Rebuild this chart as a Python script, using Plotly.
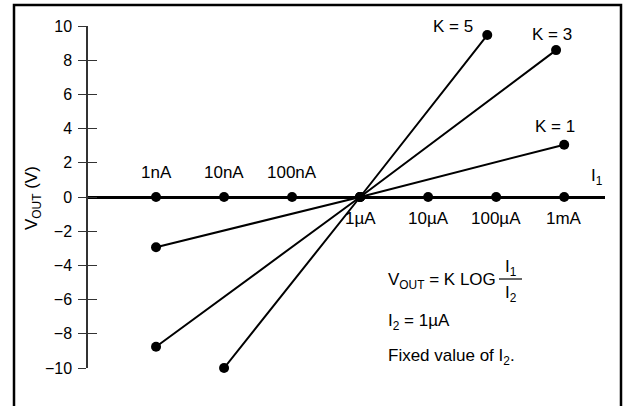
import math
import plotly.graph_objects as go

# ---- data ----
currents = [1e-9, 1e-8, 1e-7, 1e-6, 1e-5, 1e-4, 1e-3]
current_labels = ["1nA", "10nA", "100nA", "1µA", "10µA", "100µA", "1mA"]
label_above = [True, True, True, False, False, False, False]

k_names = ["K = 1", "K = 3", "K = 5"]
k1_x = [1e-9, 1e-6, 1e-3]
k1_y = [-2.94, 0, 3.06]
k3_x = [1e-9, 1e-6, 7.6e-4]
k3_y = [-8.76, 0, 8.59]
k5_x = [1e-8, 1e-6, 7.4e-5]
k5_y = [-10.0, 0, 9.47]

y_ticks = [-10, -8, -6, -4, -2, 0, 2, 4, 6, 8, 10]

FONT = "Liberation Sans, Arial, Helvetica, sans-serif"
W, H = 627, 406
L, T = 88, 26
R = W - 605
B = H - 368
PW, PH = W - L - R, H - T - B


def px(x):
    return (x - L) / PW


def py(y):
    return (H - B - y) / PH


def txt(text, x, y, xanchor="center", angle=0, size=17):
    return dict(x=px(x), y=py(y), xref="paper", yref="paper", text=text,
                xanchor=xanchor, yanchor="middle", textangle=angle,
                showarrow=False, font=dict(size=size, color="black", family=FONT))


fig = go.Figure()

# axis dots
fig.add_trace(go.Scatter(x=currents, y=[0] * len(currents), mode="markers",
                         marker=dict(color="black", size=10),
                         cliponaxis=False, showlegend=False, hoverinfo="skip"))

for xs, ys in [(k1_x, k1_y), (k3_x, k3_y), (k5_x, k5_y)]:
    fig.add_trace(go.Scatter(x=xs, y=ys, mode="lines+markers",
                             line=dict(color="black", width=2),
                             marker=dict(color="black", size=10),
                             cliponaxis=False, showlegend=False, hoverinfo="skip"))

# invisible trace for the inner tick axis
fig.add_trace(go.Scatter(x=[None], y=[None], yaxis="y2", showlegend=False,
                         hoverinfo="skip"))

annotations = []
for c, lab, up in zip(currents, current_labels, label_above):
    annotations.append(dict(x=math.log10(c), y=0, xref="x", yref="y", text=lab,
                            xanchor="center", yanchor="middle",
                            showarrow=False, yshift=25 if up else -21,
                            font=dict(size=17, color="black", family=FONT)))

for name, (xp, yp) in zip(k_names, [(555, 127), (552, 35), (453, 27)]):
    annotations.append(txt(name, xp, yp))

annotations.append(txt("I<sub>1</sub>", 597, 177))
annotations.append(txt("V<sub>OUT</sub> (V)", 33, 198, angle=-90))

# formula block
annotations.append(txt("V<sub>OUT</sub> = K LOG", 386, 281, xanchor="left"))
annotations.append(txt("I<sub>1</sub>", 511, 268))
annotations.append(txt("I<sub>2</sub>", 511, 294))
annotations.append(txt("I<sub>2</sub> = 1µA", 386, 322, xanchor="left"))
annotations.append(txt("Fixed value of I<sub>2</sub>.", 386, 357, xanchor="left"))

shapes = [
    dict(type="line", xref="paper", yref="paper", x0=px(499), x1=px(522),
         y0=py(279), y1=py(279), line=dict(color="black", width=1.2)),
    # frame (bottom edge lies just outside the picture)
    dict(type="rect", xref="paper", yref="paper", layer="above",
         x0=px(14), x1=px(621), y0=py(410), y1=py(5),
         line=dict(color="black", width=2.5), fillcolor="rgba(0,0,0,0)"),
]

fig.update_layout(
    width=W, height=H,
    margin=dict(l=L, r=R, t=T, b=B),
    paper_bgcolor="white", plot_bgcolor="white",
    font=dict(family=FONT, size=16, color="black"),
    hovermode=False,
    xaxis=dict(type="log", range=[-10, -2.4], showticklabels=False, ticks="",
               showgrid=False, zeroline=False, showline=False),
    yaxis=dict(range=[-10, 10], tickvals=y_ticks, ticks="outside", ticklen=8,
               tickwidth=1.3, tickcolor="#333", showline=True, linecolor="#333",
               linewidth=1.5, showgrid=False, zeroline=True, zerolinecolor="black",
               zerolinewidth=2.5, ticklabelstandoff=3,
               tickfont=dict(size=16, color="black", family=FONT)),
    yaxis2=dict(range=[-10, 10], overlaying="y", side="left", anchor="x",
                tickvals=y_ticks, ticks="inside", ticklen=9, tickwidth=1.3,
                tickcolor="#333", showticklabels=False, showgrid=False,
                zeroline=False, showline=False),
    annotations=annotations,
    shapes=shapes,
)

fig.write_html("out.html", config={"displayModeBar": False},
               post_script="document.body.style.margin='0';"
                           "document.body.style.overflow='hidden';")
